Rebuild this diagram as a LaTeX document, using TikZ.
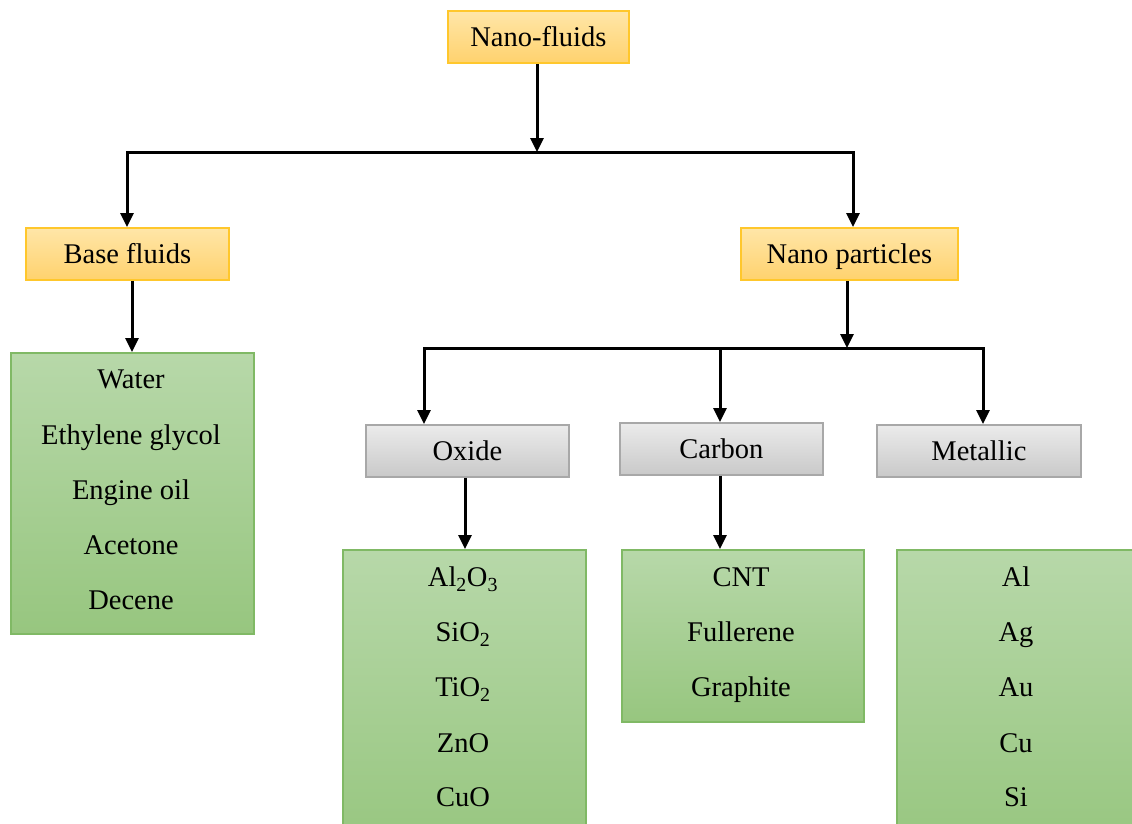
\documentclass[tikz,border=0pt]{standalone}
\usepackage{fontspec}
\setmainfont{Liberation Serif}
\usetikzlibrary{arrows.meta}
\definecolor{orfill1}{HTML}{FFE6A8}
\definecolor{orfill2}{HTML}{FFD26E}
\definecolor{ordraw}{HTML}{FFC72C}
\definecolor{grfill1}{HTML}{B7D8A9}
\definecolor{grfill2}{HTML}{97C67F}
\definecolor{grdraw}{HTML}{80B965}
\definecolor{gyfill1}{HTML}{EBEBEB}
\definecolor{gyfill2}{HTML}{C9C9C9}
\definecolor{gydraw}{HTML}{A8A8A8}
\tikzset{
  txt/.style={font=\fontsize{28.5}{31}\selectfont, text=black, inner sep=0pt, text height=19pt, text depth=0pt},
  orbox/.style={txt, draw=ordraw, line width=1.8pt, top color=orfill1, bottom color=orfill2, anchor=north west},
  gybox/.style={txt, draw=gydraw, line width=1.8pt, top color=gyfill1, bottom color=gyfill2, anchor=north west},
  grbox/.style={draw=grdraw, line width=1.8pt, top color=grfill1, bottom color=grfill2, anchor=north west, inner sep=0pt},
  item/.style={txt, anchor=center},
  conn/.style={line width=3pt, black},
  arr/.style={conn, -{Triangle[length=14pt,width=13pt]}},
}
\begin{document}
\begin{tikzpicture}[x=1pt,y=-1pt]
\useasboundingbox (0,0) rectangle (1132,823);
\fill[white] (0,0) rectangle (1132,823);
\begin{scope}
\clip (0,0) rectangle (1132,823);
% top level
\node[orbox, minimum width=181pt, minimum height=52pt] (nf) at (447,10) {Nano-fluids};
\node[orbox, minimum width=203pt, minimum height=52pt] (bf) at (25,227) {Base fluids};
\node[orbox, minimum width=217pt, minimum height=52pt] (np) at (740,227) {Nano particles};
% gray
\node[gybox, minimum width=203pt, minimum height=52pt] (ox) at (365,424) {Oxide};
\node[gybox, minimum width=203pt, minimum height=52pt] (ca) at (619,422) {Carbon};
\node[gybox, minimum width=204pt, minimum height=52pt] (me) at (876,424) {Metallic};
% green boxes
\node[grbox, minimum width=243pt, minimum height=281pt] (gbf) at (10,352) {};
\node[grbox, minimum width=243pt, minimum height=300pt] (gox) at (342,549) {};
\node[grbox, minimum width=242pt, minimum height=172pt] (gca) at (621,549) {};
\node[grbox, minimum width=250pt, minimum height=300pt] (gme) at (896,549) {};
\end{scope}
% items
\node[item] (w1) at (131,379) {Water};
\node[item] (w2) at (131,435) {Ethylene glycol};
\node[item] (w3) at (131,490) {Engine oil};
\node[item] (w4) at (131,545) {Acetone};
\node[item] (w5) at (131,600) {Decene};
\node[item] (o1) at (463,577) {Al\textsubscript{2}O\textsubscript{3}};
\node[item] (o2) at (463,632) {SiO\textsubscript{2}};
\node[item] (o3) at (463,687) {TiO\textsubscript{2}};
\node[item] (o4) at (463,743) {ZnO};
\node[item] (o5) at (463,797) {CuO};
\node[item] (c1) at (741,577) {CNT};
\node[item] (c2) at (741,632) {Fullerene};
\node[item] (c3) at (741,687) {Graphite};
\node[item] (m1) at (1016,577) {Al};
\node[item] (m2) at (1016,632) {Ag};
\node[item] (m3) at (1016,687) {Au};
\node[item] (m4) at (1016,743) {Cu};
\node[item] (m5) at (1016,797) {Si};
% connectors
\coordinate (j1) at (537,152);
\coordinate (j1l) at (127,152);
\coordinate (j1r) at (853,152);
\coordinate (j2) at (847,348);
\coordinate (j2l) at (424,348);
\coordinate (j2m) at (720,348);
\coordinate (j2r) at (983,348);
\coordinate (xb) at (132,0);
\coordinate (xo) at (465,0);
\coordinate (xc) at (720,0);
\draw[arr] (nf.south -| j1) -- (j1);
\draw[conn, line cap=rect] (j1l) -- (j1r);
\draw[arr] (j1l) -- (j1l |- bf.north);
\draw[arr] (j1r) -- (j1r |- np.north);
\draw[arr] (bf.south -| xb) -- (gbf.north -| xb);
\draw[arr] (np.south -| j2) -- (j2);
\draw[conn, line cap=rect] (j2l) -- (j2r);
\draw[arr] (j2l) -- (j2l |- ox.north);
\draw[arr] (j2m) -- (j2m |- ca.north);
\draw[arr] (j2r) -- (j2r |- me.north);
\draw[arr] (ox.south -| xo) -- (gox.north -| xo);
\draw[arr] (ca.south -| xc) -- (gca.north -| xc);
\end{tikzpicture}
\end{document}
